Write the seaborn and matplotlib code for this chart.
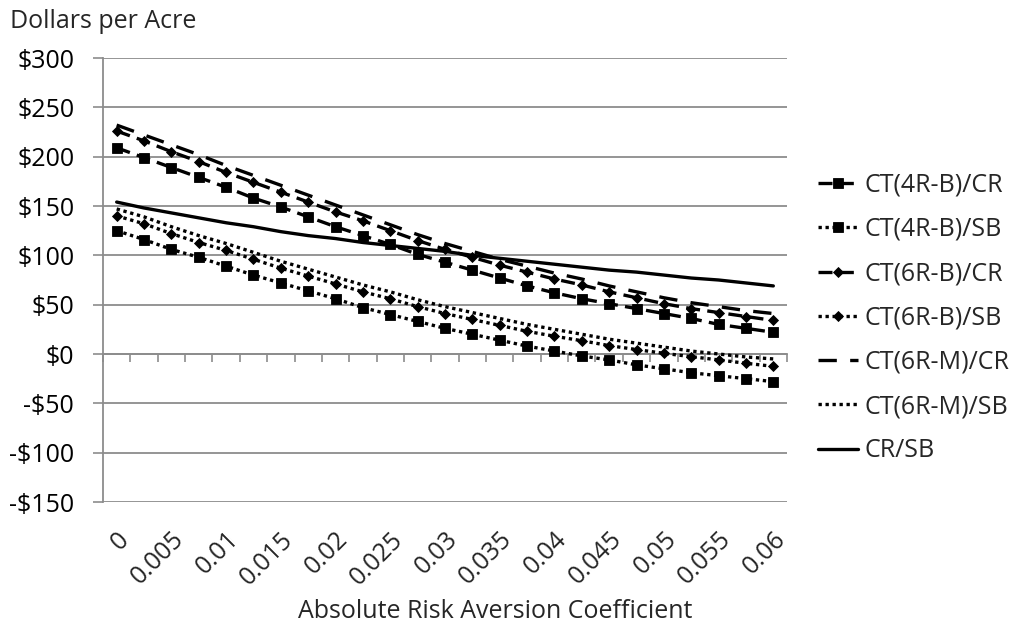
import numpy as np
import pandas as pd
import matplotlib
matplotlib.use("Agg")
import matplotlib.pyplot as plt
import seaborn as sns

# Absolute risk aversion coefficients (category axis)
risk_aversion = [0.0, 0.0025, 0.005, 0.0075, 0.01, 0.0125, 0.015, 0.0175, 0.02,
                 0.0225, 0.025, 0.0275, 0.03, 0.0325, 0.035, 0.0375, 0.04,
                 0.0425, 0.045, 0.0475, 0.05, 0.0525, 0.055, 0.0575, 0.06]

# Certainty-equivalent differences, dollars per acre
ct4rb_cr = [209, 199, 189, 179, 169, 158, 149, 139, 129, 120, 111, 101, 93,
            85, 77, 69, 62, 56, 51, 46, 41, 36, 30, 26, 22]
ct4rb_sb = [125, 116, 106, 98, 89, 80, 72, 64, 56, 47, 40, 33, 26,
            20, 14, 8, 3, -2, -6, -11, -15, -19, -22, -25, -28]
ct6rb_cr = [226, 216, 205, 195, 184, 174, 164, 154, 144, 135, 125, 115, 106,
            98, 90, 83, 76, 70, 63, 57, 51, 46, 42, 38, 34]
ct6rb_sb = [140, 132, 122, 113, 105, 96, 87, 79, 71, 63, 56, 48, 41,
            35, 29, 23, 18, 13.5, 8.5, 4.5, 0.7, -2.7, -6, -9.4, -12.5]
ct6rm_cr = [232, 222, 212, 202, 191, 181, 171, 161, 151, 141, 131, 121, 112,
            104, 96, 89, 82, 76, 69, 63, 57, 52, 48, 44, 41]
ct6rm_sb = [147, 139, 129, 120, 112, 103, 94, 86, 78, 70, 63, 55, 48,
            42, 36, 30, 25, 20, 15, 11, 7, 3, 0, -3, -5]
cr_sb = [154, 148, 143, 138, 133, 129, 124, 120, 117, 113, 110, 107, 104,
         100, 97, 94, 91, 88, 85, 83, 80, 77, 75, 72, 69]

series_names = ["CT(4R-B)/CR", "CT(4R-B)/SB", "CT(6R-B)/CR", "CT(6R-B)/SB",
                "CT(6R-M)/CR", "CT(6R-M)/SB", "CR/SB"]
series_values = [ct4rb_cr, ct4rb_sb, ct6rb_cr, ct6rb_sb, ct6rm_cr, ct6rm_sb, cr_sb]

y_ticks = [-150, -100, -50, 0, 50, 100, 150, 200, 250, 300]

dash = (0, (4.2, 2.2))
long_dash = (0, (5.5, 4.0))
dot = (0, (1.0, 1.1))
styles = {
    "CT(4R-B)/CR": dict(linestyle=dash, marker="s", markersize=6.5),
    "CT(4R-B)/SB": dict(linestyle=dot, marker="s", markersize=6.5),
    "CT(6R-B)/CR": dict(linestyle=dash, marker="D", markersize=5.3),
    "CT(6R-B)/SB": dict(linestyle=dot, marker="D", markersize=5.3),
    "CT(6R-M)/CR": dict(linestyle=long_dash, marker=None),
    "CT(6R-M)/SB": dict(linestyle=dot, marker=None),
    "CR/SB": dict(linestyle="-", marker=None),
}

sns.set_theme(style="white")
plt.rcParams["font.family"] = ["Open Sans", "DejaVu Sans"]
FS = 18
GRID = "#8c8c8c"

fig = plt.figure(figsize=(10.23, 6.28), dpi=100)
ax = fig.add_axes([103 / 1023, 1 - 502 / 628, (787 - 103) / 1023, (502 - 58) / 628])

idx = np.arange(len(risk_aversion))
df = pd.DataFrame({"idx": idx})
for name, vals in zip(series_names, series_values):
    df[name] = vals

for name in series_names:
    st = styles[name]
    sns.lineplot(data=df, x="idx", y=name, ax=ax, color="black", linewidth=2.4,
                 linestyle=st["linestyle"], marker=st["marker"],
                 markersize=st.get("markersize", 0), markeredgewidth=0.6,
                 markeredgecolor="black", markerfacecolor="black",
                 label=name, zorder=3)

ax.set_xlim(-0.5, len(risk_aversion) - 0.5)
ax.set_ylim(-150, 300)
ax.set_yticks(y_ticks)
ax.set_yticklabels([f"-${-v}" if v < 0 else f"${v}" for v in y_ticks], fontsize=FS)
ax.yaxis.grid(True, color=GRID, linewidth=1.3, zorder=0)
ax.xaxis.grid(False)
ax.set_axisbelow(True)
ax.set_xlabel("")
ax.set_ylabel("")

for side in ("top", "right"):
    ax.spines[side].set_visible(False)
ax.spines["left"].set_color(GRID)
ax.spines["left"].set_linewidth(1.3)
ax.spines["bottom"].set_position(("data", 0))
ax.spines["bottom"].set_color(GRID)
ax.spines["bottom"].set_linewidth(1.3)

ax.set_xticks(np.arange(-0.5, len(risk_aversion), 1.0))
ax.tick_params(axis="x", which="both", bottom=True, labelbottom=False,
               length=5.8, width=1.2, color=GRID, direction="out")
ax.tick_params(axis="y", left=True, length=7.2, width=1.2, color=GRID,
               direction="out", pad=13.5, labelcolor="black")

# category labels, every other value, along the bottom edge
sec = ax.secondary_xaxis("bottom")
sec.spines["bottom"].set_visible(False)
sec.set_xticks(idx[::2])
sec.set_xticklabels([f"{v:g}" for v in risk_aversion[::2]], fontsize=FS)
sec.tick_params(axis="x", length=0, pad=18)
plt.setp(sec.get_xticklabels(), rotation=45, ha="right", rotation_mode="anchor")

leg = ax.legend(loc="center left", bbox_to_anchor=(818 / 1023, 1 - 318 / 628),
                bbox_transform=fig.transFigure, frameon=False, fontsize=FS,
                handlelength=1.6, handletextpad=0.28, labelspacing=0.77,
                borderpad=0, borderaxespad=0)

fig.text(10 / 1023, 1 - 22 / 628, "Dollars per Acre", fontsize=FS,
         ha="left", va="center")
fig.text(495 / 1023, 1 - 611 / 628, "Absolute Risk Aversion Coefficient",
         fontsize=FS, ha="center", va="center")

fig.savefig("out.png", dpi=100)
